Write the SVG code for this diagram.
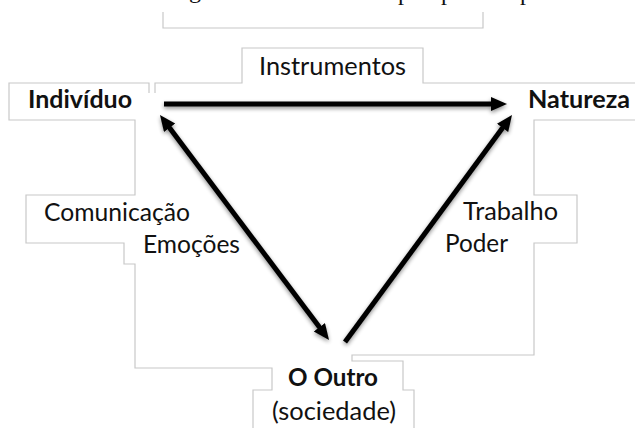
<svg xmlns="http://www.w3.org/2000/svg" width="635" height="428" viewBox="0 0 635 428">
<style>
.frame{fill:none;stroke:#c8c8c8;stroke-width:1.2}
.lbl{font-family:Lato,"Liberation Sans",Arial,sans-serif;font-size:25px;fill:#111}
.bold{font-weight:bold}
.cut{font-family:"Liberation Serif","Times New Roman",serif;font-size:24px;fill:#111}
.arrow{fill:none;stroke:#000;stroke-width:5}
</style>
<defs>
<marker id="head" markerUnits="userSpaceOnUse" markerWidth="18" markerHeight="16" refX="3" refY="7" orient="auto-start-reverse">
<path d="M0,0 L16,7 L0,14 z" fill="#000"/>
</marker>
<filter id="shadow" x="-10%" y="-10%" width="120%" height="130%">
<feGaussianBlur in="SourceAlpha" stdDeviation="2"/>
<feOffset dx="0" dy="2" result="b"/>
<feComponentTransfer><feFuncA type="linear" slope="0.45"/></feComponentTransfer>
<feMerge><feMergeNode/><feMergeNode in="SourceGraphic"/></feMerge>
</filter>
</defs>
<rect width="635" height="428" fill="#fff"/>
<g id="caption-cut">
<text class="cut" x="189" y="-2">g</text>
<text class="cut" x="398" y="0">p</text>
<text class="cut" x="441" y="0">p</text>
<text class="cut" x="520" y="0">p</text>
</g>
<g id="frames">
<polyline class="frame" points="163,12 163,28 483,28 483,12"/>
<polyline class="frame" points="155,93 155,83 242,83 242,48 423,48 423,83 510,83 635,83"/>
<polyline class="frame" points="149,93 149,83 9,83 9,120 135,120 135,195 26,195 26,243 124,243 124,264 135,264 135,368 272,368 272,390 253,390 253,428"/>
<polyline class="frame" points="635,120 534,120 534,195 577,195 577,243 534,243 534,355 352,355 352,361 403,361 403,390 414,390 414,428"/>
</g>
<g id="node-individuo"><text class="lbl bold" x="28" y="108" textLength="104" lengthAdjust="spacingAndGlyphs">Indivíduo</text></g>
<g id="node-natureza"><text class="lbl bold" x="528" y="108" textLength="102" lengthAdjust="spacingAndGlyphs">Natureza</text></g>
<g id="node-outro">
<text class="lbl bold" x="288" y="386" textLength="90" lengthAdjust="spacingAndGlyphs">O Outro</text>
<text class="lbl" x="272" y="420" textLength="124" lengthAdjust="spacingAndGlyphs">(sociedade)</text>
</g>
<g id="label-instrumentos"><text class="lbl" x="259" y="75" textLength="147" lengthAdjust="spacingAndGlyphs">Instrumentos</text></g>
<g id="label-comunicacao">
<text class="lbl" x="44" y="221" textLength="146" lengthAdjust="spacingAndGlyphs">Comunicação</text>
<text class="lbl" x="143" y="253" textLength="97" lengthAdjust="spacingAndGlyphs">Emoções</text>
</g>
<g id="label-trabalho">
<text class="lbl" x="463" y="220" textLength="95" lengthAdjust="spacingAndGlyphs">Trabalho</text>
<text class="lbl" x="445" y="252" textLength="63" lengthAdjust="spacingAndGlyphs">Poder</text>
</g>
<g id="connectors" filter="url(#shadow)">
<line class="arrow" x1="164" y1="104" x2="494" y2="104" marker-end="url(#head)"/>
<line class="arrow" x1="167.8" y1="125.4" x2="321.2" y2="329.6" marker-start="url(#head)" marker-end="url(#head)"/>
<line class="arrow" x1="345" y1="342" x2="504.3" y2="125.5" marker-end="url(#head)"/>
</g>
</svg>
